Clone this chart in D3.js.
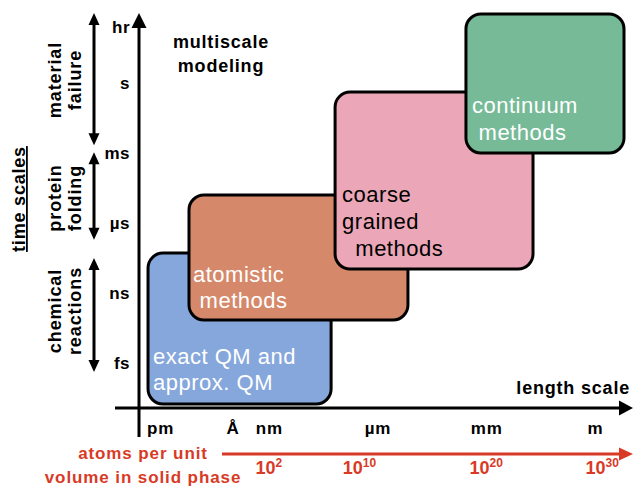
<!DOCTYPE html>
<html><head><meta charset="utf-8">
<script src="https://cdn.jsdelivr.net/npm/d3@7"></script>
<style>
body{margin:0;background:#fff;}
text{font-family:"Liberation Sans",Arial,Helvetica,sans-serif;}
</style></head>
<body><div id="chart"></div>
<script>
// ---- data ----
const timeLabels = ["fs","ns","µs","ms","s","hr"];
const timeValues = [0, 1, 2, 3, 4, 4.8];            // ordinal time rank
const lengthLabels = ["pm","Å","nm","µm","mm","m"];
const lengthValues = [-12, -10, -9, -6, -3, 0];      // log10(metres)
const atomExponents = ["2","10","20","30"];
const atomPositions = [-9, -6.5, -3, 0.2];           // on length scale
const methodNames = ["exact QM and approx. QM","atomistic methods","coarse grained methods","continuum methods"];
const methodX0 = [-12.33, -11.2, -7.17, -3.56];
const methodX1 = [-7.28, -5.16, -1.71, 0.8];
const methodY0 = [-0.586, 0.614, 1.343, 3.0];
const methodY1 = [1.57, 2.4, 3.87, 4.986];
const methodColors = ["#86a7db","#d5896a","#eba7b7","#76ba98"];
const methodTextColors = ["#fff","#fff","#000","#fff"];
const methodLines = [["exact QM and","approx. QM"],["atomistic"," methods"],["coarse","grained","  methods"],["continuum"," methods"]];
const processNames = [["material","failure"],["protein","folding"],["chemical","reactions"]];
const processLo = [3.11, 1.76, -0.13];
const processHi = [5.0, 3.01, 1.5];

// ---- layout ----
const W = 634, H = 488;
const svg = d3.select("#chart").append("svg").attr("width", W).attr("height", H);

function arrow(x1, y1, x2, y2, L, Wd, color, both){
  const dx = x2 - x1, dy = y2 - y1, len = Math.hypot(dx, dy);
  const ux = dx/len, uy = dy/len, px = -uy, py = ux;
  const s1 = both ? L - 1 : 0;
  svg.append("line").attr("x1", x1 + ux*s1).attr("y1", y1 + uy*s1)
    .attr("x2", x2 - ux*(L-1)).attr("y2", y2 - uy*(L-1))
    .attr("stroke", color).attr("stroke-width", 3);
  const head = (tx, ty, vx, vy) => {
    const bx = tx - vx*L, by = ty - vy*L;
    svg.append("path").attr("fill", color)
      .attr("d", `M${tx},${ty} L${bx + px*Wd/2},${by + py*Wd/2} L${bx - px*Wd/2},${by - py*Wd/2} Z`);
  };
  head(x2, y2, ux, uy);
  if (both) head(x1, y1, -ux, -uy);
}

const x = d3.scaleLinear().domain([-12, 0]).range([160, 595]);
const y = d3.scaleLinear().domain([0, 5]).range([363, 13]);
const axisX = 139, axisY = 408;

// boxes
const boxes = svg.append("g");
methodNames.forEach((name, i) => {
  boxes.append("rect")
    .attr("x", x(methodX0[i])).attr("y", y(methodY1[i]))
    .attr("width", x(methodX1[i]) - x(methodX0[i]))
    .attr("height", y(methodY0[i]) - y(methodY1[i]))
    .attr("rx", 15).attr("ry", 15)
    .attr("fill", methodColors[i]).attr("stroke", "#000").attr("stroke-width", 3);
});

// box labels
const boxTextPos = [
  {dx: 5, base: [364, 390]},
  {dx: 4, base: [282, 308]},
  {dx: 7, base: [202, 229, 256]},
  {dx: 6, base: [113, 140]}
];
methodLines.forEach((lines, i) => {
  const t = svg.append("text").attr("fill", methodTextColors[i])
    .attr("font-size", 22).attr("letter-spacing", "0.5px").style("white-space","pre");
  lines.forEach((ln, j) => {
    t.append("tspan").attr("x", x(methodX0[i]) + boxTextPos[i].dx).attr("y", boxTextPos[i].base[j]).text(ln);
  });
});

// axes lines
arrow(axisX, 437, axisX, 13, 15, 15, "#000", false);
arrow(115, axisY, 633, axisY, 14, 15, "#000", false);

// y axis labels
const yAxis = d3.axisLeft(y).tickValues(timeValues).tickFormat((d,i)=>timeLabels[i]).tickSize(0).tickPadding(0);
const gy = svg.append("g").attr("transform", `translate(130,0)`).call(yAxis);
gy.select(".domain").remove();
gy.selectAll("text").attr("font-size", 17).attr("font-weight","bold").attr("fill","#000")
  .attr("font-family","Liberation Sans, Arial, sans-serif").attr("letter-spacing","0.5px");

// x axis labels
const xAxis = d3.axisBottom(x).tickValues(lengthValues).tickFormat((d,i)=>lengthLabels[i]).tickSize(0).tickPadding(14);
const gx = svg.append("g").attr("transform", `translate(0,${axisY})`).call(xAxis);
gx.select(".domain").remove();
gx.selectAll("text").attr("font-size", 17).attr("font-weight","bold").attr("fill","#000")
  .attr("font-family","Liberation Sans, Arial, sans-serif").attr("letter-spacing","0.8px");

// axis titles
svg.append("text").attr("x", 630).attr("y", 394).attr("text-anchor","end")
  .attr("font-size", 18).attr("font-weight","bold").attr("letter-spacing","0.8px").text("length scale");
const ms = svg.append("text").attr("text-anchor","middle").attr("font-size", 18).attr("font-weight","bold").attr("letter-spacing","0.8px");
ms.append("tspan").attr("x", 221).attr("y", 48).text("multiscale");
ms.append("tspan").attr("x", 221).attr("y", 72).text("modeling");

svg.append("text").attr("transform","translate(25,199) rotate(-90)").attr("text-anchor","middle")
  .attr("font-size", 18).attr("font-weight","bold").attr("letter-spacing","0.8px")
  .attr("text-decoration","underline").text("time scales");

// process arrows + labels
const procCenters = [80, 198, 311];
processNames.forEach((lines, i) => {
  arrow(94, y(processLo[i]), 94, y(processHi[i]), 12, 11, "#000", true);
  const t = svg.append("text").attr("transform",`translate(0,${procCenters[i]}) rotate(-90)`)
    .attr("text-anchor","middle").attr("font-size",18).attr("font-weight","bold").attr("letter-spacing","0.9px");
  t.append("tspan").attr("x",0).attr("y",61).text(lines[0]);
  t.append("tspan").attr("x",0).attr("y",81).text(lines[1]);
});

// red atoms axis
const red = "#d83a26";
arrow(222, 454, 633, 454, 14, 13, red, false);
const rt = svg.append("text").attr("text-anchor","middle").attr("fill", red)
  .attr("font-size",17).attr("font-weight","bold").attr("letter-spacing","0.9px");
rt.append("tspan").attr("x",143).attr("y",459).text("atoms per unit");
rt.append("tspan").attr("x",143).attr("y",483).text("volume in solid phase");
atomExponents.forEach((e, i) => {
  const t = svg.append("text").attr("x", x(atomPositions[i])).attr("y", 474).attr("text-anchor","middle")
    .attr("fill", red).attr("font-size",18).attr("font-weight","bold");
  t.append("tspan").text("10");
  t.append("tspan").attr("font-size",12).attr("dy",-7).text(e);
});
</script></body></html>
